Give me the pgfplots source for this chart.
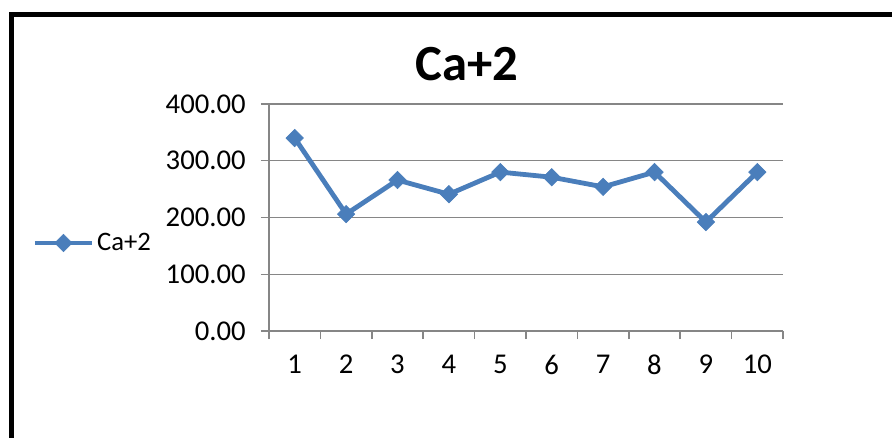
\documentclass[border=0pt]{standalone}
\usepackage{pgfplots}
\pgfplotsset{compat=1.18}
\usepackage{fontspec}
\setmainfont{Carlito}
\definecolor{serblue}{RGB}{74,126,187}
\definecolor{axgray}{RGB}{134,134,134}
\begin{document}
\begin{tikzpicture}
\path[use as bounding box] (0pt,0pt) rectangle (669pt,327.75pt);
\clip (0pt,0pt) rectangle (669pt,327.75pt);
\draw[line width=3.5pt] (8.6pt,316.9pt) rectangle (800pt,-100pt);
\node[font=\fontsize{38}{40}\selectfont\bfseries, anchor=base] at (350.25pt,267.75pt) {Ca+2};
\begin{axis}[
  at={(201.75pt,79.5pt)}, anchor=south west,
  scale only axis, width=385.5pt, height=170.25pt,
  xmin=0.5, xmax=10.5, ymin=0, ymax=400,
  axis x line*=bottom, axis y line*=left,
  axis line style={axgray, line width=1.1pt},
  xtick={1,...,10},
  minor xtick={0.5,1.5,...,10.5},
  major x tick style={draw=none},
  minor x tick style={axgray, line width=1.1pt},
  ytick={0,100,...,400},
  y tick style={axgray, line width=1.1pt},
  tick align=outside, major tick length=6pt, minor tick length=6pt,
  ymajorgrids, grid style={axgray, line width=1.1pt},
  yticklabel={\pgfmathprintnumber[fixed,fixed zerofill,precision=2,assume math mode=true]{\tick}},
  xticklabel={\pgfmathprintnumber[assume math mode=true]{\tick}},
  every tick label/.append style={font=\fontsize{21.5}{23}\selectfont},
  yticklabel style={xshift=-8pt},
  xticklabel style={yshift=-8.5pt},
  legend style={at={(-0.46,0.388)}, anchor=west, draw=none, fill=none, inner sep=0pt, outer sep=0pt,
    font=\fontsize{20}{22}\selectfont, legend cell align=left},
  legend image code/.code={\draw[mark repeat=2,mark phase=2] plot coordinates {(0pt,0pt) (21.4pt,0pt) (42.8pt,0pt)};},
  clip=false,
]
\addplot[serblue, line width=3.6pt, mark=square*, mark size=4.6pt,
  mark options={solid, rotate=45, line width=0.5pt, fill=serblue}]
  coordinates {(1,340) (2,206) (3,266) (4,241) (5,280) (6,271) (7,254) (8,280) (9,192) (10,280)};
\addlegendentry{Ca+2}
\end{axis}
\end{tikzpicture}
\end{document}
